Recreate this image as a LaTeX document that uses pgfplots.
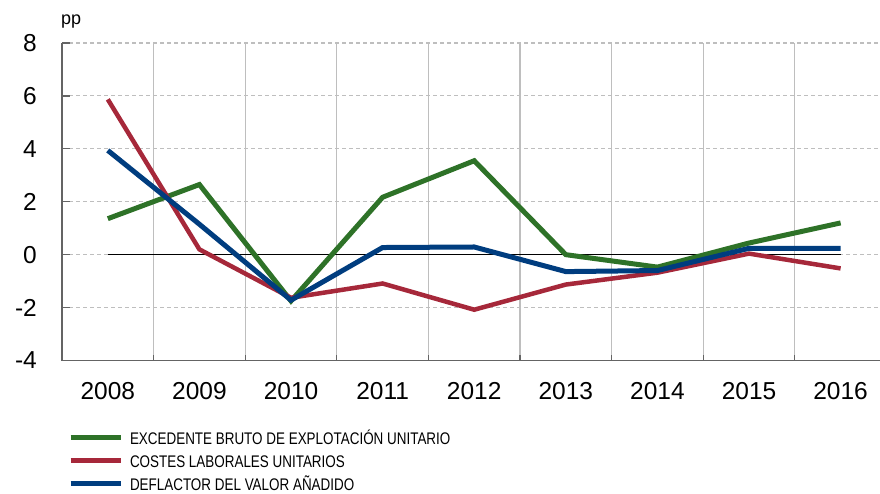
\documentclass[border=0pt]{standalone}
\usepackage{fontspec}
\setmainfont{Liberation Sans}
\newfontfamily\narrowfont[FakeStretch=0.8]{Liberation Sans}
\usepackage{pgfplots}
\pgfplotsset{compat=1.18}
\definecolor{cgreen}{RGB}{46,114,40}
\definecolor{cred}{RGB}{166,40,58}
\definecolor{cblue}{RGB}{0,61,127}
\definecolor{gridgray}{RGB}{190,190,190}
\definecolor{axgray}{RGB}{100,100,100}
\begin{document}
\begin{tikzpicture}[x=1pt,y=1pt]
\begin{axis}[
  at={(62pt,132.5pt)}, anchor=south west,
  scale only axis, width=818pt, height=317.5pt,
  xmin=-0.5, xmax=8.43, ymin=-4, ymax=8,
  axis x line*=bottom, axis y line*=left,
  axis line style={axgray, line width=1.4pt},
  xtick={0,...,8},
  xticklabels={2008,2009,2010,2011,2012,2013,2014,2015,2016},
  minor xtick={0.5,1.5,...,7.5},
  xminorgrids=true,
  minor grid style={gridgray, line width=1.2pt},
  major x tick style={draw=none},
  minor x tick style={axgray, line width=1.2pt},
  minor tick length=6pt,
  ytick={-4,-2,...,8},
  ymajorgrids=true,
  major grid style={gridgray, line width=1.1pt, dash pattern=on 4pt off 3pt},
  major y tick style={axgray, line width=1.2pt},
  major tick length=8pt,
  tick align=inside,
  /pgf/number format/assume math mode=true,
  ticklabel style={font=\fontsize{24.5}{24.5}\selectfont, inner sep=0pt},
  yticklabel style={anchor=east},
  xticklabel style={anchor=north},
  yticklabel shift=25pt,
  xticklabel shift=22pt,
  clip=false,
  legend cell align=left,
  legend style={draw=none, fill=none, at={(axis description cs:0,0)}, anchor=north west,
    xshift=6pt, yshift=-72pt, inner sep=0pt, outer sep=0pt,
    font=\narrowfont\fontsize{16.8}{16.8}\selectfont,
    nodes={inner sep=0pt, text height=12pt, text depth=0pt, anchor=west},
    row sep=11pt, column sep=7pt},
  legend image code/.code={\draw[#1] (0pt,1pt) -- (50pt,1pt);},
]
\addplot[black, line width=1pt, forget plot] coordinates {(0,0) (8,0)};
\addplot[cgreen, line width=5pt] coordinates {
(0,1.36) (1,2.65) (2,-1.75) (3,2.17) (4,3.55) (5,0.0) (6,-0.47) (7,0.44) (8,1.2)};
\addplot[cred, line width=4.5pt] coordinates {
(0,5.87) (1,0.2) (2,-1.63) (3,-1.09) (4,-2.08) (5,-1.13) (6,-0.68) (7,0.04) (8,-0.52)};
\addplot[cblue, line width=5pt] coordinates {
(0,3.94) (1,1.15) (2,-1.72) (3,0.27) (4,0.29) (5,-0.64) (6,-0.6) (7,0.24) (8,0.24)};
\legend{EXCEDENTE BRUTO DE EXPLOTACIÓN UNITARIO, COSTES LABORALES UNITARIOS, DEFLACTOR DEL VALOR AÑADIDO}
\end{axis}
\node[anchor=base west, inner sep=0pt, font=\fontsize{18}{18}\selectfont] at (61pt,468pt) {pp};
\pgfresetboundingbox
\path[use as bounding box] (0pt,0pt) rectangle (880pt,493pt);
\end{tikzpicture}
\end{document}
